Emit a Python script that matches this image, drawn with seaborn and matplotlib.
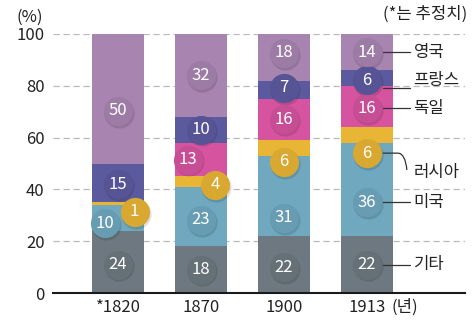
import matplotlib
matplotlib.use("Agg")
import matplotlib.pyplot as plt
import matplotlib.transforms as mtransforms
from matplotlib.path import Path
from matplotlib.patches import PathPatch
import numpy as np
import pandas as pd
import seaborn as sns

# Share of world GDP by country (%), 1820 values are estimates
years = ["*1820", "1870", "1900", "1913"]
countries = ["기타", "미국", "러시아", "독일", "프랑스", "영국"]
other = [24, 18, 22, 22]
usa = [10, 23, 31, 36]
russia = [1, 4, 6, 6]
germany = [0, 13, 16, 16]
france = [15, 10, 7, 6]
britain = [50, 32, 18, 14]
y_ticks = [0, 20, 40, 60, 80, 100]

series = [other, usa, russia, germany, france, britain]
bar_colors = ["#6d7880", "#6fa8bf", "#e9b534", "#d6549f", "#5c5a9f", "#a884b0"]

# bubble nudges (x in category units, y in percent) so bubbles don't collide
nudges = {
    (0, "영국"): (0, -4.7), (0, "미국"): (-0.16, -2.0), (0, "러시아"): (0.2, -3.2),
    (0, "기타"): (0, -1.0), (0, "프랑스"): (0, -0.5),
    (1, "독일"): (-0.16, 0), (1, "러시아"): (0.17, -1.3), (1, "미국"): (0, -1.3),
    (2, "러시아"): (0, -5.4), (2, "미국"): (0, -8.5), (2, "프랑스"): (0, 0.7),
    (2, "영국"): (0, 1.7), (2, "기타"): (0, -1.0),
    (3, "러시아"): (0, -7.0), (3, "미국"): (0, -5.0), (3, "프랑스"): (0, -0.8),
    (3, "독일"): (0, -0.6),
}

df = pd.DataFrame({c: s for c, s in zip(countries, series)})
df["year"] = years
cum = df[countries].cumsum(axis=1)

sns.set_style("white")
plt.rcParams["font.family"] = ["Noto Sans CJK KR", "DejaVu Sans"]
FS = 12
TXT = "#222222"

fig = plt.figure(figsize=(4.77, 3.21), dpi=100)
ax = fig.add_axes([53 / 477, 28 / 321, 412 / 477, 259 / 321])

# gridlines behind bars
for v in y_ticks[1:]:
    ax.axhline(v, color="#b9b9b9", lw=0.9, ls=(0, (5, 3)), zorder=0)

# stacked bars: draw cumulative totals from the top layer downwards
for c, col in reversed(list(zip(countries, bar_colors))):
    sns.barplot(x=df["year"], y=cum[c], color=col, saturation=1, width=0.63,
                ax=ax, zorder=2, linewidth=0, edgecolor="none")

def darker(hexcol, f=0.93):
    r, g, b = matplotlib.colors.to_rgb(hexcol)
    return (r * f, g * f, b * f)

shadow_tr = mtransforms.offset_copy(ax.transData, fig=fig, x=0.8, y=-1.2, units="points")
bubble_pos = {}
for i in range(len(years)):
    for c, col in zip(countries, bar_colors):
        v = df.loc[i, c]
        if v == 0:
            continue
        dx, dy = nudges.get((i, c), (0, 0))
        x = i + dx
        y = cum.loc[i, c] - v / 2 + dy
        bubble_pos[(i, c)] = (x, y)
        ax.scatter([x], [y], s=470, color="black", alpha=0.12, lw=0,
                   transform=shadow_tr, zorder=4, clip_on=False)
        ax.scatter([x], [y], s=440, color=darker(col), lw=0, zorder=5, clip_on=False)
        ax.text(x, y, str(v), ha="center", va="center", color="white",
                fontsize=FS, fontweight="light", zorder=6)

# callout labels for the last bar
edge = 0.19
line_end = 3.52
text_x = 3.56
last = len(years) - 1
for c in countries:
    x, y = bubble_pos[(last, c)]
    if c == "러시아":
        verts = [(x + edge, y), (3.37, y), (3.46, y), (3.48, y - 6.5)]
        codes = [Path.MOVETO, Path.LINETO, Path.CURVE3, Path.CURVE3]
        ax.add_patch(PathPatch(Path(verts, codes), fc="none", ec="#333333",
                               lw=0.9, zorder=3, clip_on=False))
        ax.text(text_x, y - 7.6, c, ha="left", va="center", fontsize=FS, color=TXT)
        continue
    ly = y - 3.0 if c == "프랑스" else y
    ax.plot([x + edge, line_end], [ly, ly], color="#333333", lw=0.9,
            zorder=3, clip_on=False)
    ax.text(text_x, y, c, ha="left", va="center", fontsize=FS, color=TXT)

ax.set_xlim(-0.783, 4.18)
ax.set_ylim(0, 100)
ax.set_yticks(y_ticks)
ax.set_yticklabels([str(t) for t in y_ticks], fontsize=FS, color=TXT,
                   fontweight="light")
ax.set_xticks(range(len(years)))
ax.set_xticklabels(years, fontsize=FS, color=TXT, fontweight="light")
ax.tick_params(axis="both", length=0)
ax.tick_params(axis="y", pad=6)
ax.tick_params(axis="x", pad=4)
ax.set_xlabel("")
ax.set_ylabel("")
for s in ["left", "right", "top"]:
    ax.spines[s].set_visible(False)
ax.spines["bottom"].set_color("#1a1a1a")
ax.spines["bottom"].set_linewidth(1.5)
ax.spines["bottom"].set_zorder(7)

ax.annotate("(년)", xy=(3.3, 0), xycoords=("data", "axes fraction"),
            xytext=(0, -4), textcoords="offset points", ha="left", va="top",
            fontsize=FS, color=TXT)
fig.text(16 / 477, 1 - 17 / 321, "(%)", ha="left", va="center", fontsize=FS,
         color=TXT)
fig.text(467 / 477, 1 - 14 / 321, "(*는 추정치)", ha="right", va="center",
         fontsize=FS, color=TXT)

fig.savefig("out.png", dpi=100)
